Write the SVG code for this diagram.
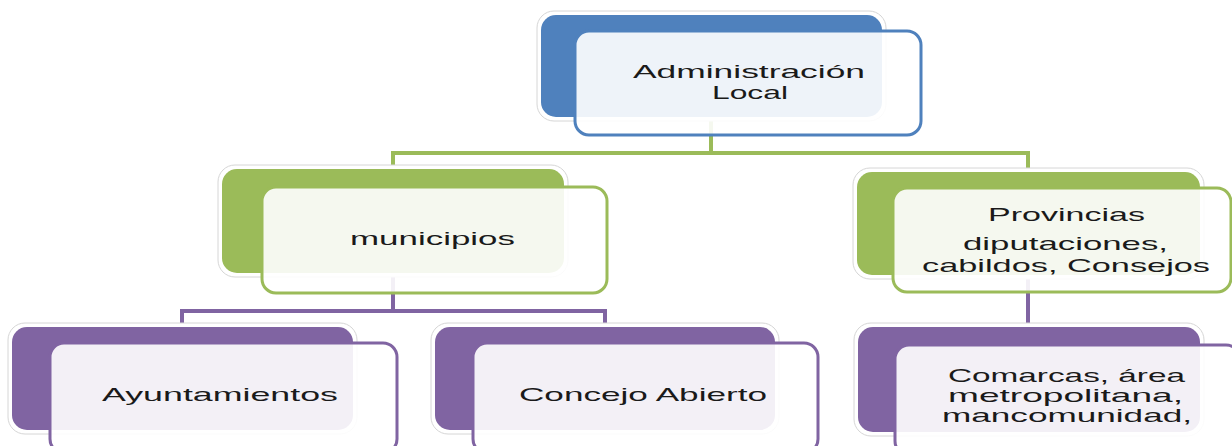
<svg xmlns="http://www.w3.org/2000/svg" width="1232" height="446" viewBox="0 0 1232 446">
<style>
.halo{fill:#fff;stroke:#d6d6d6;stroke-width:1}
.front{fill:#fff;fill-opacity:0.9;stroke-width:3}
.blue .back{fill:#4F81BD}.blue .front{stroke:#4F81BD}
.green .back{fill:#9BBB59}.green .front{stroke:#9BBB59}
.purple .back{fill:#8064A2}.purple .front{stroke:#8064A2}
.conn{fill:none;stroke-width:4}
text{font-family:"Liberation Sans","DejaVu Sans",sans-serif;font-size:19px;fill:#1a1a1a}
</style>
<rect width="1232" height="446" fill="#fff"/>
<g id="connectors">
<path class="conn" stroke="#9BBB59" d="M711,117 V153 M393,171 V153 H1028 V173"/>
<path class="conn" stroke="#8064A2" d="M393,273 V311 M182,329 V311 H605 V329"/>
<path class="conn" stroke="#8064A2" d="M1028,275 V329"/>
</g>
<g id="n-admin" class="blue">
<rect class="halo" x="537" y="11" width="349" height="110" rx="17"/>
<rect class="back" x="541" y="15" width="341" height="102" rx="15"/>
<rect class="front" x="575" y="31" width="346" height="104" rx="14"/>
<text x="633" y="78" textLength="232" lengthAdjust="spacingAndGlyphs">Administración</text>
<text x="712" y="99" textLength="76" lengthAdjust="spacingAndGlyphs">Local</text>
</g>
<g id="n-municipios" class="green">
<rect class="halo" x="218" y="165" width="350" height="112" rx="17"/>
<rect class="back" x="222" y="169" width="342" height="104" rx="15"/>
<rect class="front" x="262" y="187" width="345" height="106" rx="14"/>
<text x="350" y="245" textLength="165" lengthAdjust="spacingAndGlyphs">municipios</text>
</g>
<g id="n-provincias" class="green">
<rect class="halo" x="853" y="168" width="351" height="111" rx="17"/>
<rect class="back" x="857" y="172" width="343" height="103" rx="15"/>
<rect class="front" x="893" y="188" width="338" height="104" rx="14"/>
<text x="988" y="221" textLength="157" lengthAdjust="spacingAndGlyphs">Provincias</text>
<text x="963" y="250" textLength="205" lengthAdjust="spacingAndGlyphs">diputaciones,</text>
<text x="922" y="272" textLength="288" lengthAdjust="spacingAndGlyphs">cabildos, Consejos</text>
</g>
<g id="n-ayuntamientos" class="purple">
<rect class="halo" x="8" y="323" width="349" height="111" rx="17"/>
<rect class="back" x="12" y="327" width="341" height="103" rx="15"/>
<rect class="front" x="50" y="343" width="347" height="110" rx="14"/>
<text x="102" y="401" textLength="236" lengthAdjust="spacingAndGlyphs">Ayuntamientos</text>
</g>
<g id="n-concejo" class="purple">
<rect class="halo" x="431" y="323" width="348" height="111" rx="17"/>
<rect class="back" x="435" y="327" width="340" height="103" rx="15"/>
<rect class="front" x="473" y="343" width="345" height="110" rx="14"/>
<text x="519" y="401" textLength="248" lengthAdjust="spacingAndGlyphs">Concejo Abierto</text>
</g>
<g id="n-comarcas" class="purple">
<rect class="halo" x="854" y="323" width="350" height="113" rx="17"/>
<rect class="back" x="858" y="327" width="342" height="105" rx="15"/>
<rect class="front" x="895" y="345" width="345" height="110" rx="14"/>
<text x="948" y="382" textLength="237" lengthAdjust="spacingAndGlyphs">Comarcas, área</text>
<text x="948" y="402" textLength="235" lengthAdjust="spacingAndGlyphs">metropolitana,</text>
<text x="942" y="422" textLength="250" lengthAdjust="spacingAndGlyphs">mancomunidad,</text>
</g>
</svg>
